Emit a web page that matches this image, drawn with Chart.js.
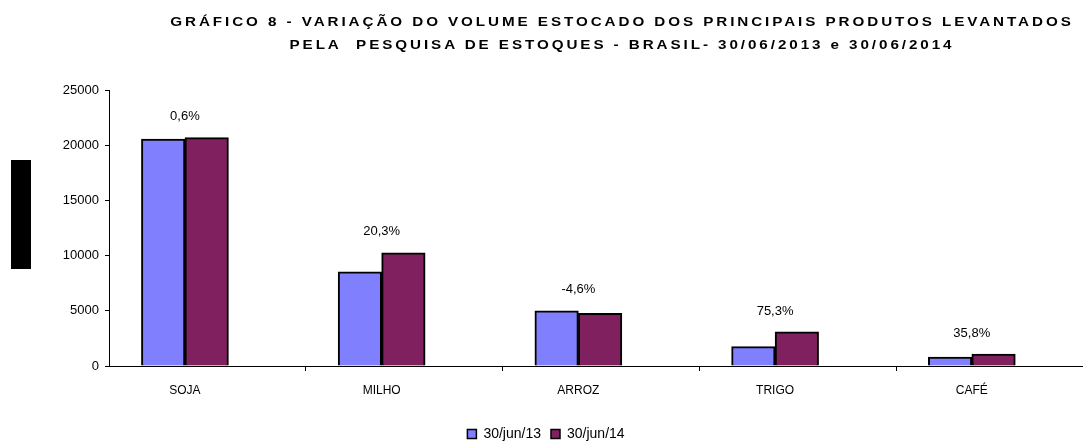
<!DOCTYPE html>
<html>
<head>
  <meta charset="utf-8">
  <script src="https://cdn.jsdelivr.net/npm/chart.js"></script>
  <style>
    body { margin: 0; width: 1083px; height: 441px; overflow: hidden; background: #fff; position: relative; }
    #wrap { position: absolute; left: 0; top: 0; width: 1092px; height: 441px; }
    #title { position: absolute; left: 122px; top: 10px; width: 1000px; text-align: center;
      font: bold 13px "Liberation Sans", Arial, sans-serif; letter-spacing: 2.5px; line-height: 23px; color: #000;
      transform: scaleX(1.17); transform-origin: 500px 0; z-index: 2; }
    #block { position: absolute; left: 11px; top: 160px; width: 20px; height: 109px; background: #000; z-index: 2; }
  </style>
</head>
<body>
  <div id="title">GRÁFICO 8 - VARIAÇÃO DO VOLUME ESTOCADO DOS PRINCIPAIS PRODUTOS LEVANTADOS<br>PELA&nbsp; PESQUISA DE ESTOQUES - BRASIL- 30/06/2013 e 30/06/2014</div>
  <div id="block"></div>
  <div id="wrap"><canvas id="myChart"></canvas></div>
  <script>
    // volumes estocados (mil t)
    let produtos = ['SOJA', 'MILHO', 'ARROZ', 'TRIGO', 'CAFÉ'];
    let jun13 = [20560, 8520, 5000, 1760, 800];
    let jun14 = [20680, 10250, 4770, 3085, 1086];
    let variacao = ['0,6%', '20,3%', '-4,6%', '75,3%', '35,8%'];
    let legendas = ['30/jun/13', '30/jun/14'];
    let yTicks = [0, 5000, 10000, 15000, 20000, 25000];

    const font = '"Liberation Sans", Arial, sans-serif';

    let near = v => Math.abs(v - Math.round(v)) < 1e-6;

    let pctLabels = {
      id: 'pctLabels',
      afterDatasetsDraw(chart) {
        let ctx = chart.ctx;
        let a = chart.getDatasetMeta(0).data;
        let b = chart.getDatasetMeta(1).data;
        ctx.save();
        ctx.font = '13px ' + font;
        ctx.fillStyle = '#000';
        ctx.textAlign = 'center';
        ctx.textBaseline = 'middle';
        variacao.forEach((t, i) => {
          let x = (a[i].x + b[i].x) / 2;
          let top = Math.min(a[i].y, b[i].y);
          ctx.fillText(t, x, top - 21);
        });
        ctx.restore();
      }
    };

    new Chart(document.getElementById('myChart'), {
      type: 'bar',
      data: {
        datasets: [
          { label: legendas[0], data: jun13.map((v, i) => ({ x: i, y: v })),
            backgroundColor: '#8080FF', borderColor: '#000', borderWidth: 2 },
          { label: legendas[1], data: jun14.map((v, i) => ({ x: i, y: v })),
            backgroundColor: '#80205F', borderColor: '#000', borderWidth: 2 }
        ]
      },
      options: {
        responsive: true,
        maintainAspectRatio: false,
        animation: false,
        barThickness: 43.5,
        layout: { padding: { top: 90, right: 0, bottom: -10, left: 0 } },
        scales: {
          x: {
            type: 'linear',
            offset: false,
            min: -0.386,
            max: 4.611,
            afterBuildTicks: axis => {
              let t = [];
              produtos.forEach((p, i) => { t.push({ value: i }); if (i < produtos.length - 1) t.push({ value: i + 0.615 }); });
              axis.ticks = t;
            },
            afterFit: axis => { axis.height = 51; },
            grid: { offset: false, drawOnChartArea: false, tickLength: 5,
              tickColor: c => (c.tick && near(c.tick.value)) ? 'rgba(0,0,0,0)' : '#000' },
            border: { color: '#000', width: 1 },
            ticks: { autoSkip: false, maxRotation: 0, padding: 12, color: '#000',
              font: { family: font, size: 12 },
              callback: v => near(v) ? produtos[Math.round(v)] : '' }
          },
          y: {
            min: 0,
            max: 25000,
            afterBuildTicks: axis => { axis.ticks = yTicks.map(v => ({ value: v })); },
            afterFit: axis => { axis.width = 109; },
            grid: { drawOnChartArea: false, tickLength: 4, tickColor: '#000' },
            border: { color: '#000', width: 1 },
            ticks: { padding: 6, color: '#000', font: { family: font, size: 13 }, callback: v => String(v) }
          }
        },
        plugins: {
          title: { display: false },
          tooltip: { enabled: false },
          legend: {
            position: 'bottom',
            labels: {
              color: '#000',
              font: { family: font, size: 14 },
              boxWidth: 9,
              boxHeight: 9,
              padding: 10,
              generateLabels: chart => chart.data.datasets.map((d, i) => ({
                text: d.label, fillStyle: d.backgroundColor, strokeStyle: '#000', lineWidth: 1.5, datasetIndex: i
              }))
            }
          }
        }
      },
      plugins: [pctLabels]
    });
  </script>
</body>
</html>
